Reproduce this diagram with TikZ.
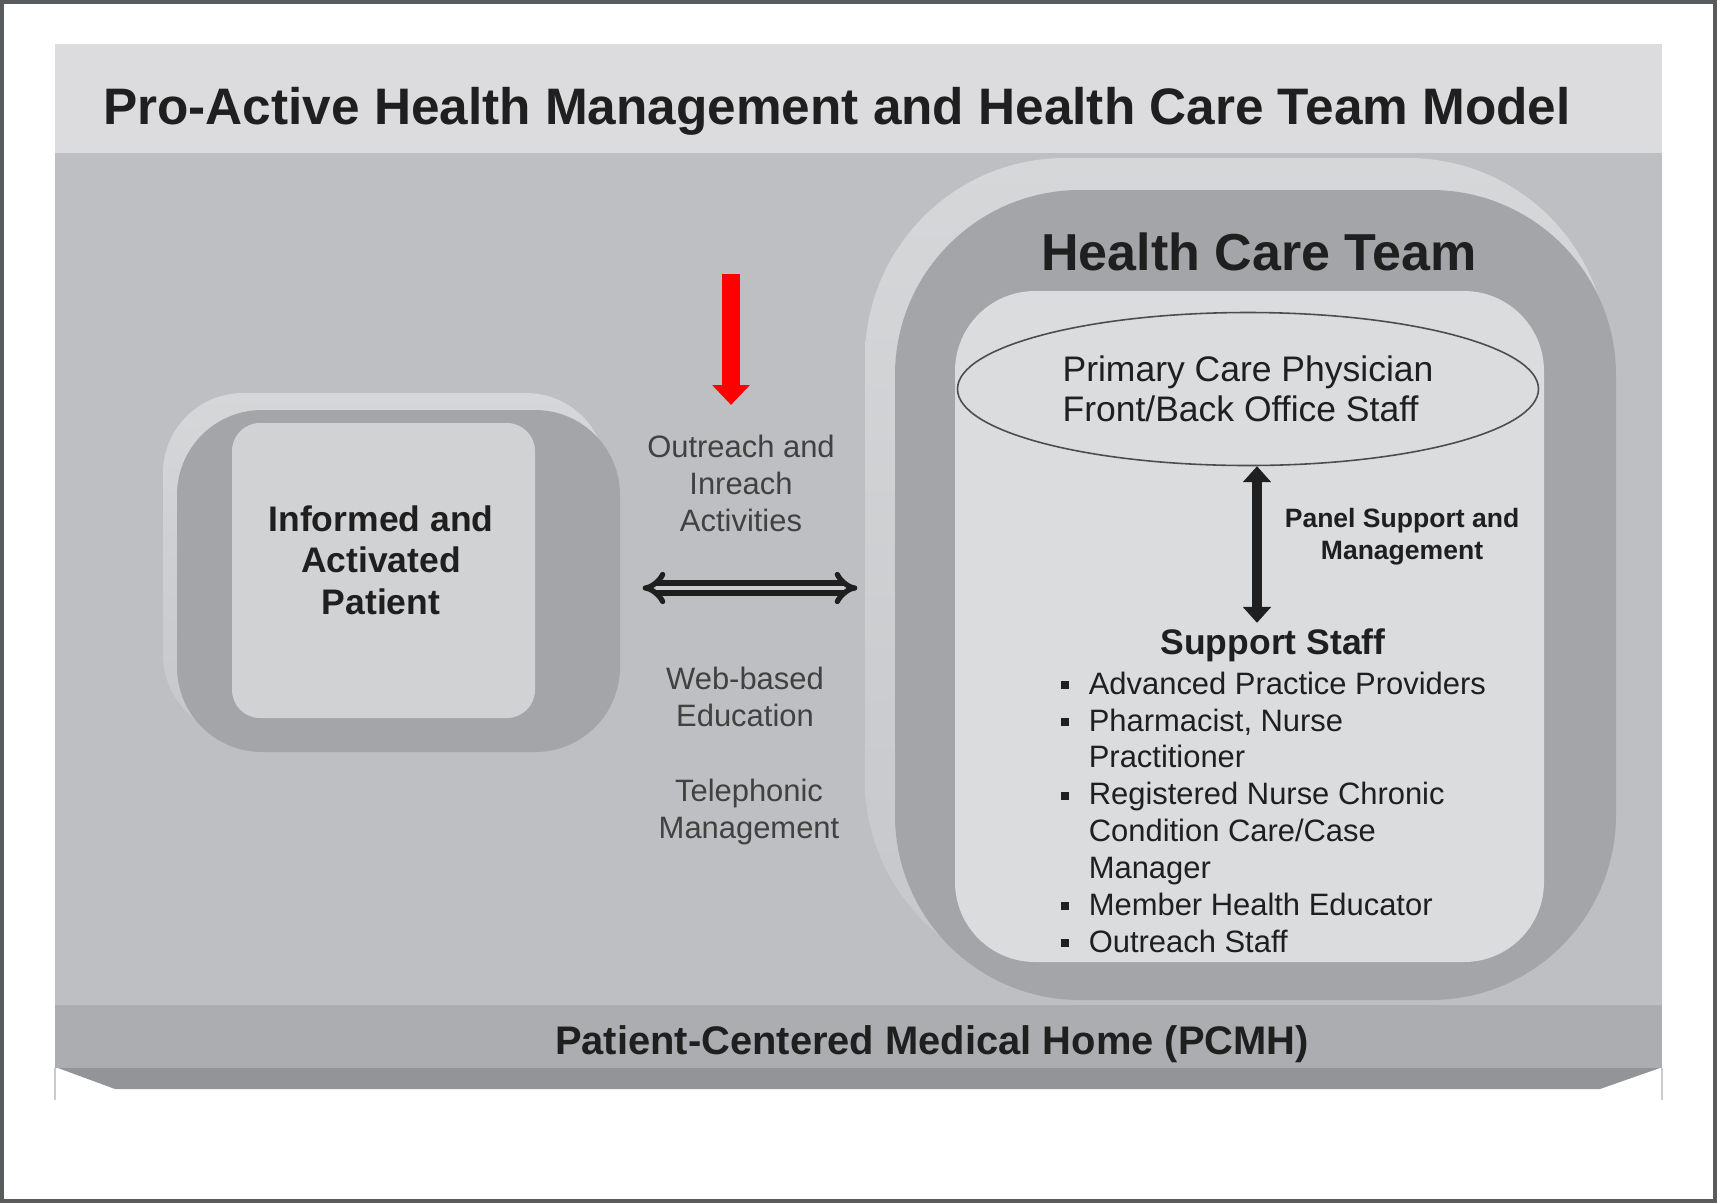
\documentclass[tikz,border=0pt]{standalone}
\usepackage{fontspec}
\setmainfont{Liberation Sans}
\usepackage{xcolor}
\usetikzlibrary{shapes.geometric,arrows.meta,positioning,calc}

\definecolor{framegray}{HTML}{5A5B5D}
\definecolor{titleband}{HTML}{DCDCDE}
\definecolor{panelbg}{HTML}{BEBFC2}
\definecolor{homeband}{HTML}{ACADB0}
\definecolor{homelip}{HTML}{939497}
\definecolor{bevel}{HTML}{D6D7D9}
\definecolor{bevellow}{HTML}{C6C7CA}
\definecolor{ringgray}{HTML}{A4A5A8}
\definecolor{patfill}{HTML}{D1D2D4}
\definecolor{teamfill}{HTML}{DBDCDE}
\definecolor{inkgray}{HTML}{1F1F1F}

\newcommand{\sqbullet}{\makebox[8pt][l]{\rule[0.17em]{0.26em}{0.26em}}}

\begin{document}
\begin{tikzpicture}[
    bevelbox/.style={rectangle, top color=bevel, bottom color=bevellow, draw=none, inner sep=0pt},
    ringbox/.style={rectangle, fill=ringgray, draw=none, inner sep=0pt},
    innerbox/.style={rectangle, draw=none, inner sep=0pt},
    heading/.style={font=\bfseries\fontsize{14.6}{17}\selectfont, text=inkgray},
    boldtxt/.style={font=\bfseries\fontsize{10.1}{11.8}\selectfont, text=inkgray, align=center},
    plain/.style={font=\fontsize{8.8}{10.5}\selectfont, text=inkgray!85, align=center},
    dblarrow/.style={draw=inkgray, line width=1.5pt, double=panelbg!80!white, double distance=1.4pt,
        {Implies}-{Implies}},
    redarrow/.style={draw=red, line width=5.1pt, -{Triangle[width=10.6pt,length=5.6pt,line width=0.4pt]}},
    vdbl/.style={draw=inkgray, line width=3pt,
        {Triangle[width=8pt,length=4.5pt,line width=0.4pt]}-{Triangle[width=8pt,length=4.5pt,line width=0.4pt]}}
]
    \useasboundingbox (0,0) rectangle (17.17,-12.03);
    \fill[white] (0,0) rectangle (17.17,-12.03);

    \fill[titleband] (0.55,-0.44) rectangle (16.62,-1.53);
    \fill[panelbg] (0.55,-1.53) rectangle (16.62,-10.05);
    \fill[homeband] (0.55,-10.05) rectangle (16.62,-10.68);
    \fill[homelip] (0.58,-10.68) -- (16.60,-10.68) -- (16.00,-10.89) -- (1.15,-10.89) -- cycle;
    \draw[black!20, line width=0.4pt] (0.55,-10.68) -- (0.55,-11.0) (16.62,-10.68) -- (16.62,-11.0);
    \draw[framegray, line width=1.2pt] (0.02,-0.02) rectangle (17.15,-12.01);

    \node[heading] (title) at (8.37,-1.11) {Pro-Active Health Management and Health Care Team Model};
    \node[font=\bfseries\fontsize{11.35}{13}\selectfont, text=inkgray] (pcmh) at (9.32,-10.44)
        {Patient-Centered Medical Home (PCMH)};

    \node[bevelbox, rounded corners=0.8cm, minimum width=4.43cm, minimum height=3.42cm] (patbevel) at (3.845,-5.64) {};
    \node[ringbox, rounded corners=0.85cm, minimum width=4.43cm, minimum height=3.42cm] (patring) at (3.985,-5.81) {};
    \node[innerbox, fill=patfill, rounded corners=0.28cm, minimum width=3.03cm, minimum height=2.95cm] (patbox) at (3.835,-5.705) {};
    \node[boldtxt] (patient) at (3.81,-5.60) {Informed and\\Activated\\Patient};

    \node[bevelbox, rounded corners=2.0cm, minimum width=7.43cm, minimum height=8.22cm] (teambevel) at (12.365,-5.69) {};
    \node[ringbox, rounded corners=1.85cm, minimum width=7.21cm, minimum height=8.10cm] (teamring) at (12.555,-5.95) {};
    \node[innerbox, fill=teamfill, rounded corners=0.8cm, minimum width=5.89cm, minimum height=6.71cm] (teambox) at (12.495,-6.265) {};
    \node[heading, font=\bfseries\fontsize{14.8}{17}\selectfont] (team) at (12.59,-2.52) {Health Care Team};

    \node[ellipse, draw=inkgray!80, line width=0.45pt, fill=teamfill, minimum width=5.81cm, minimum height=1.53cm,
        inner sep=0pt, align=left, font=\fontsize{10.1}{11.4}\selectfont, text=inkgray] (physician) at (12.48,-3.89)
        {Primary Care Physician\\Front/Back Office Staff};
    \node[font=\bfseries\fontsize{7.55}{9.1}\selectfont, text=inkgray, align=center] (panel) at (14.02,-5.365)
        {Panel Support and\\Management};
    \node[boldtxt, inner sep=0pt] (staff) at (12.73,-6.45) {Support Staff};
    \node[anchor=north west, inner sep=0pt, align=left, font=\fontsize{8.8}{10.5}\selectfont, text=inkgray] (stafflist) at (10.60,-6.71)
        {\sqbullet Advanced Practice Providers\\
        \sqbullet Pharmacist, Nurse\\
        \hspace*{8pt}Practitioner\\
        \sqbullet Registered Nurse Chronic\\
        \hspace*{8pt}Condition Care/Case\\
        \hspace*{8pt}Manager\\
        \sqbullet Member Health Educator\\
        \sqbullet Outreach Staff};

    \node[plain] (outreach) at (7.41,-4.835) {Outreach and\\Inreach\\Activities};
    \node[plain] (webedu) at (7.45,-6.965) {Web-based\\Education};
    \node[plain] (phone) at (7.49,-8.12) {Telephonic\\Management};

    \coordinate (redtop) at (7.31,-2.74);
    \coordinate (arrowrow) at (7.5,-5.88);
    \coordinate (panelx) at (12.57,0);

    \draw[redarrow, shorten >=0.18cm] (redtop) -- (redtop |- outreach.north);
    \draw[dblarrow, shorten <=0.22cm, shorten >=0.07cm] (patring.east |- arrowrow) -- (teambevel.west |- arrowrow);
    \draw[vdbl, shorten >=0.05cm] (physician.south -| panelx) -- (staff.north -| panelx);
\end{tikzpicture}
\end{document}
